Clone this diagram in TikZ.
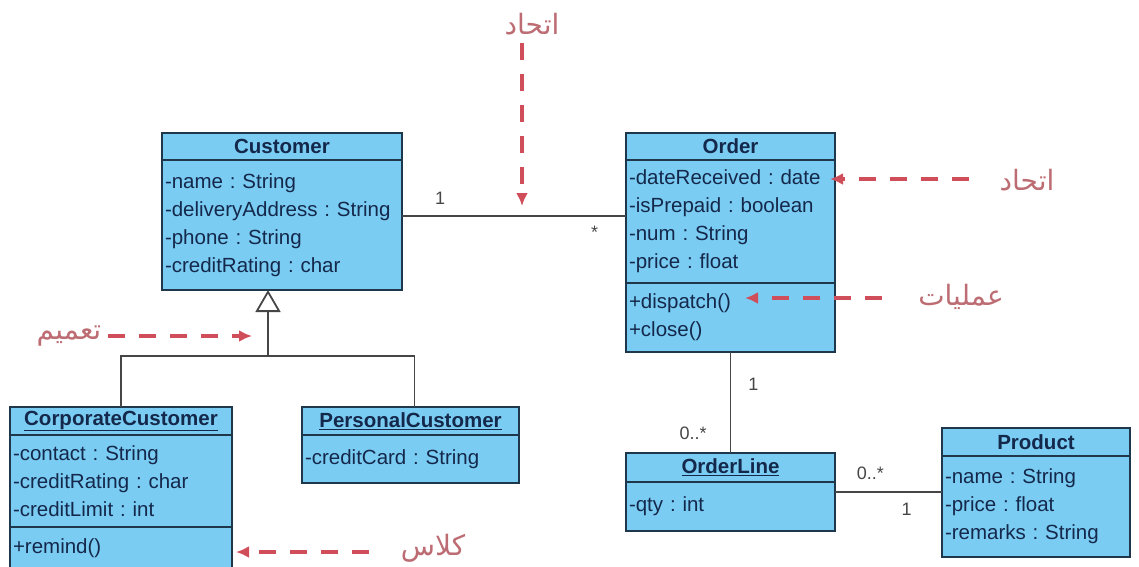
\documentclass[tikz,border=0pt]{standalone}
\usepackage{fontspec}
\setmainfont{Liberation Sans}
\newfontfamily\arabicfont[Script=Arabic]{DejaVu Sans}
\TeXXeTstate=1
\frenchspacing
\usetikzlibrary{positioning, calc, arrows.meta}
\definecolor{umlfill}{RGB}{122,204,242}
\definecolor{umlline}{RGB}{30,55,75}
\definecolor{umltext}{RGB}{20,40,75}
\definecolor{notered}{RGB}{208,78,90}
\definecolor{notetext}{RGB}{188,108,114}
\definecolor{linkgray}{RGB}{70,70,70}

\begin{document}
\begin{tikzpicture}[x=1pt, y=-1pt,
  classhead/.style={draw=umlline, fill=umlfill, line width=1.6pt, outer sep=0pt, inner sep=0pt,
    text=umltext, font=\bfseries\fontsize{20.5}{24}\selectfont},
  classbody/.style={draw=umlline, fill=umlfill, line width=1.6pt, outer sep=0pt, inner xsep=3pt,
    inner ysep=0pt, text=umltext, align=left, font=\frenchspacing\fontsize{20.5}{28}\selectfont},
  assoc/.style={draw=linkgray, line width=1.8pt},
  mult/.style={text=linkgray, font=\fontsize{18}{20}\selectfont, inner sep=0pt},
  note/.style={draw=notered, line width=3.5pt, dash pattern=on 17pt off 14pt,
    -{Latex[length=13pt, width=12pt]}},
  notelabel/.style={text=notetext, font=\arabicfont\fontsize{28}{32}\selectfont, inner sep=0pt}]

\useasboundingbox (0,0) rectangle (1139,566);

% classes
\node[classhead, minimum width=240pt, minimum height=27pt, anchor=north] (customer) at (282,133) {Customer};
\node[classbody, text width=234pt, minimum height=130pt, below=0pt of customer] (customerattr)
  {-name : String\\-deliveryAddress : String\\-phone : String\\-creditRating : char};

\node[classhead, minimum width=209pt, minimum height=27pt, anchor=north] (order) at (730.5,133) {Order};
\node[classbody, text width=203pt, minimum height=123pt, below=0pt of order] (orderattr)
  {-dateReceived : date\\-isPrepaid : boolean\\-num : String\\-price : float};
\node[classbody, text width=203pt, minimum height=69pt, below=0pt of orderattr] (orderops)
  {+dispatch()\\+close()};

\node[classhead, minimum width=222pt, minimum height=28pt, anchor=north] (corporate) at (121,407) {\underline{CorporateCustomer}};
\node[classbody, text width=216pt, minimum height=92pt, below=0pt of corporate] (corporateattr)
  {-contact : String\\-creditRating : char\\-creditLimit : int};
\node[classbody, text width=216pt, minimum height=42pt, below=0pt of corporateattr] (corporateops)
  {+remind()};

\node[classhead, minimum width=217pt, minimum height=28pt, anchor=north] (personal) at (410.5,407) {\underline{PersonalCustomer}};
\node[classbody, text width=211pt, minimum height=48pt, below=0pt of personal] (personalattr)
  {-creditCard : String};

\node[classhead, minimum width=209pt, minimum height=29pt, anchor=north] (orderline) at (730.5,453) {\underline{OrderLine}};
\node[classbody, text width=203pt, minimum height=49pt, below=0pt of orderline] (orderlineattr)
  {-qty : int};

\node[classhead, minimum width=188pt, minimum height=28pt, anchor=north] (product) at (1036,428) {Product};
\node[classbody, text width=182pt, minimum height=101pt, below=0pt of product] (productattr)
  {-name : String\\-price : float\\-remarks : String};

% links
\draw[assoc] ([yshift=9pt]customerattr.east) -- ([yshift=9pt]customerattr.east -| orderattr.west)
  node[mult, pos=0.17, above=11pt] {1} node[mult, pos=0.86, below=9pt] {*};
\draw[assoc] (orderops.south) -- (orderline.north)
  node[mult, pos=0.32, right=17pt] {1} node[mult, pos=0.8, left=23pt] {0..*};
\draw[assoc] ([yshift=14.5pt]orderlineattr.east) -- ([yshift=14.5pt]orderlineattr.east -| productattr.west)
  node[mult, pos=0.33, above=11pt] {0..*} node[mult, pos=0.67, below=10pt] {1};

\coordinate (genjoint) at (268,356);
\draw[assoc, -{Triangle[length=22pt, width=25pt, fill=white]}] (genjoint) -- (genjoint |- customerattr.south);
\draw[assoc] (corporate.north) |- (genjoint) -| ([xshift=4pt]personal.north);

% notes
\node[notelabel] (assoctop) at (532,24) {\beginR اتحاد\endR};
\node[notelabel] (assocright) at (1027,180) {\beginR اتحاد\endR};
\node[notelabel] (opsnote) at (961,297) {\beginR عمليات\endR};
\node[notelabel] (gennote) at (69,336) {\beginR تعميم\endR};
\node[notelabel] (classnote) at (433,548) {\beginR كلاس\endR};

\coordinate (assoctip) at (522,206);
\coordinate (datetip) at (830,179);
\coordinate (opstip) at (745,298);
\coordinate (gentip) at (252,336);
\coordinate (classtip) at (236,552);

\draw[note, shorten <=8pt] (assoctop.south -| assoctip) -- (assoctip);
\draw[note, shorten <=30pt] (assocright.west |- datetip) -- (datetip);
\draw[note, shorten <=36pt] (opsnote.west |- opstip) -- (opstip);
\draw[note, shorten <=7pt] (gennote.east |- gentip) -- (gentip);
\draw[note, shorten <=32pt] (classnote.west |- classtip) -- (classtip);
\end{tikzpicture}
\end{document}
